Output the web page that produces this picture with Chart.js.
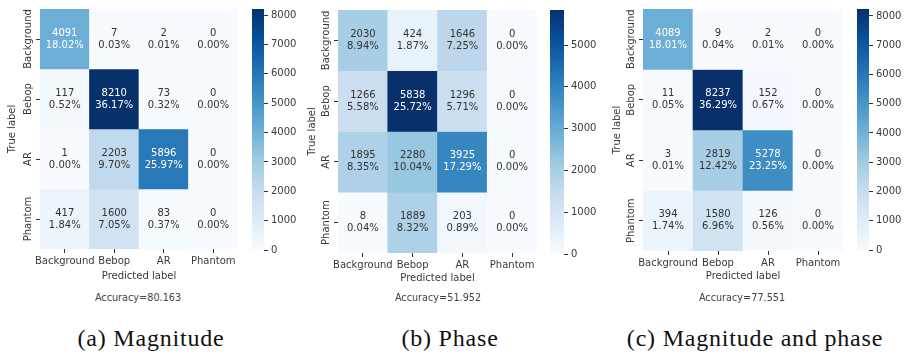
<!DOCTYPE html>
<html><head><meta charset="utf-8">
<script src="https://cdn.jsdelivr.net/npm/chart.js@4.4.1/dist/chart.umd.min.js"></script>
<style>
html,body{margin:0;padding:0;background:#fff}
body{width:907px;height:355px;position:relative;overflow:hidden}
canvas{position:absolute;top:0}
.acc{position:absolute;top:292px;line-height:12px;font:9.7px "DejaVu Sans";color:#444;transform:translateX(-50%);white-space:nowrap}
.cap{position:absolute;top:325px;line-height:26px;font:24px "Liberation Serif";letter-spacing:0.8px;color:#111;transform:translateX(-50%);white-space:nowrap}
</style></head><body>
<canvas id="ha" width="245" height="290" style="left:0px"></canvas>
<canvas id="ca" width="60" height="262" style="left:252px"></canvas>
<canvas id="hb" width="245" height="292" style="left:300px"></canvas>
<canvas id="cb" width="55" height="266" style="left:550px"></canvas>
<canvas id="hc" width="245" height="290" style="left:605px"></canvas>
<canvas id="cc" width="50" height="262" style="left:857px"></canvas>
<div class="acc" id="acca" style="left:138px"></div>
<div class="acc" id="accb" style="left:438px"></div>
<div class="acc" id="accc" style="left:742px"></div>
<div class="cap" id="capa" style="left:151px"></div>
<div class="cap" id="capb" style="left:450px"></div>
<div class="cap" id="capc" style="left:755px"></div>
<script>
// ---------- data ----------
const classes = ['Background', 'Bebop', 'AR', 'Phantom'];

const magnitudeCounts = [
  [4091, 7, 2, 0],
  [117, 8210, 73, 0],
  [1, 2203, 5896, 0],
  [417, 1600, 83, 0]
];
const magnitudePct = [
  ['18.02%', '0.03%', '0.01%', '0.00%'],
  ['0.52%', '36.17%', '0.32%', '0.00%'],
  ['0.00%', '9.70%', '25.97%', '0.00%'],
  ['1.84%', '7.05%', '0.37%', '0.00%']
];

const phaseCounts = [
  [2030, 424, 1646, 0],
  [1266, 5838, 1296, 0],
  [1895, 2280, 3925, 0],
  [8, 1889, 203, 0]
];
const phasePct = [
  ['8.94%', '1.87%', '7.25%', '0.00%'],
  ['5.58%', '25.72%', '5.71%', '0.00%'],
  ['8.35%', '10.04%', '17.29%', '0.00%'],
  ['0.04%', '8.32%', '0.89%', '0.00%']
];

const bothCounts = [
  [4089, 9, 2, 0],
  [11, 8237, 152, 0],
  [3, 2819, 5278, 0],
  [394, 1580, 126, 0]
];
const bothPct = [
  ['18.01%', '0.04%', '0.01%', '0.00%'],
  ['0.05%', '36.29%', '0.67%', '0.00%'],
  ['0.01%', '12.42%', '23.25%', '0.00%'],
  ['1.74%', '6.96%', '0.56%', '0.00%']
];

const colorbarTicksA = [0, 1000, 2000, 3000, 4000, 5000, 6000, 7000, 8000];
const colorbarTicksB = [0, 1000, 2000, 3000, 4000, 5000];
const colorbarTicksC = [0, 1000, 2000, 3000, 4000, 5000, 6000, 7000, 8000];

const accuracies = ['Accuracy=80.163', 'Accuracy=51.952', 'Accuracy=77.551'];
const captions = ['(a) Magnitude', '(b) Phase', '(c) Magnitude and phase'];

// ---------- colour map (matplotlib Blues) ----------
const BLUES = [[247,251,255],[222,235,247],[198,219,239],[158,202,225],[107,174,214],[66,146,198],[33,113,181],[8,81,156],[8,48,107]];
function bluesRGB(t) {
  t = Math.max(0, Math.min(1, t));
  const p = t * (BLUES.length - 1);
  const i = Math.min(BLUES.length - 2, Math.floor(p));
  const f = p - i;
  return BLUES[i].map((c, k) => Math.round(c + (BLUES[i + 1][k] - c) * f));
}
function rgbStr(c) { return 'rgb(' + c.join(',') + ')'; }
function luminance(c) {
  const l = c.map(v => { v /= 255; return v <= 0.03928 ? v / 12.92 : Math.pow((v + 0.055) / 1.055, 2.4); });
  return 0.2126 * l[0] + 0.7152 * l[1] + 0.0722 * l[2];
}

Chart.defaults.font.family = '"DejaVu Sans"';
Chart.defaults.font.size = 10;
const TXT = '#3a3a3a';
const TICK = '#333333';
const font10 = { family: '"DejaVu Sans"', size: 10 };

const annotPlugin = {
  id: 'annot',
  afterDatasetsDraw(chart) {
    const c = chart.ctx;
    c.save();
    c.font = '10px "DejaVu Sans"';
    c.textAlign = 'center';
    c.textBaseline = 'middle';
    chart.data.datasets.forEach((ds, r) => {
      const meta = chart.getDatasetMeta(r);
      meta.data.forEach((bar, k) => {
        const p = bar.getProps(['x', 'y', 'base'], true);
        const cy = (p.y + p.base) / 2;
        c.fillStyle = ds.textColors[k];
        c.fillText(String(ds.counts[k]), p.x, cy - 6);
        c.fillText(ds.pct[k], p.x, cy + 6);
      });
    });
    // rotated y tick labels
    const ys = chart.scales.y;
    c.fillStyle = TXT;
    ys.ticks.forEach((t, i) => {
      const py = ys.getPixelForValue(t.value);
      c.save();
      c.translate(chart.chartArea.left - 12, py);
      c.rotate(-Math.PI / 2);
      c.fillText(classes[i], 0, 0);
      c.restore();
    });
    c.restore();
  }
};

function heatmap(id, counts, pct, L) {
  const vmax = Math.max(...counts.flat());
  const datasets = counts.map((row, r) => {
    const cols = row.map(v => bluesRGB(v / vmax));
    return {
      data: row.map(() => [r, r + 1]),
      backgroundColor: cols.map(rgbStr),
      textColors: cols.map(col => luminance(col) > 0.408 ? '#333333' : '#ffffff'),
      counts: row,
      pct: pct[r],
      borderWidth: 0,
      barPercentage: 1,
      categoryPercentage: 1,
      grouped: false
    };
  });
  new Chart(document.getElementById(id), {
    type: 'bar',
    data: { labels: classes, datasets },
    options: {
      responsive: false, animation: false, events: [],
      layout: { padding: { top: L.top, right: L.right, left: 0, bottom: 0 } },
      plugins: { legend: { display: false }, tooltip: { enabled: false } },
      scales: {
        x: {
          ticks: { font: font10, color: TXT, padding: 2, maxRotation: 0, autoSkip: false },
          grid: { drawOnChartArea: false, offset: false, tickLength: 4, color: TICK, tickColor: TICK, tickWidth: 1 },
          border: { display: false },
          title: { display: true, text: 'Predicted label', font: font10, color: TXT, padding: { top: 0, bottom: 8 } },
          afterFit: s => { s.height = L.xh; }
        },
        y: {
          type: 'linear', min: 0, max: 4, reverse: true,
          afterBuildTicks: s => { s.ticks = [0.5, 1.5, 2.5, 3.5].map(v => ({ value: v })); },
          ticks: { callback: () => ' ', font: font10 },
          grid: { drawOnChartArea: false, tickLength: 4, color: TICK, tickColor: TICK, tickWidth: 1 },
          border: { display: false },
          title: { display: true, text: 'True label', font: font10, color: TXT, padding: { top: 6, bottom: 0 } },
          afterFit: s => { s.width = L.yw; }
        }
      }
    },
    plugins: [annotPlugin]
  });
  return vmax;
}

function colorbar(id, vmax, ticks, L) {
  function grad(ctx) {
    const ch = ctx.chart;
    if (!ch.chartArea) return rgbStr(BLUES[4]);
    const y0 = ch.scales.y.getPixelForValue(0);
    const y1 = ch.scales.y.getPixelForValue(vmax);
    const g = ch.ctx.createLinearGradient(0, y0, 0, y1);
    BLUES.forEach((c, i) => g.addColorStop(i / (BLUES.length - 1), rgbStr(c)));
    return g;
  }
  new Chart(document.getElementById(id), {
    type: 'bar',
    data: { labels: [''], datasets: [{ data: [[0, vmax]], backgroundColor: grad, borderWidth: 0, barPercentage: 1, categoryPercentage: 1 }] },
    options: {
      responsive: false, animation: false, events: [],
      layout: { padding: { top: L.top, bottom: L.bottom, left: 0, right: 0 } },
      plugins: { legend: { display: false }, tooltip: { enabled: false } },
      scales: {
        x: { display: false },
        y: {
          position: 'right', min: 0, max: vmax,
          afterBuildTicks: s => { s.ticks = ticks.map(v => ({ value: v })); },
          ticks: { font: font10, color: TXT, padding: 3, callback: v => String(v) },
          grid: { drawOnChartArea: false, tickLength: 4, color: TICK, tickColor: TICK, tickWidth: 1 },
          border: { display: false },
          afterFit: s => { s.width = L.w; }
        }
      }
    }
  });
}

const vA = heatmap('ha', magnitudeCounts, magnitudePct, { top: 7, right: 7, xh: 41, yw: 40 });
const vB = heatmap('hb', phaseCounts, phasePct, { top: 10, right: 8, xh: 39, yw: 38 });
const vC = heatmap('hc', bothCounts, bothPct, { top: 7, right: 7, xh: 39, yw: 38 });
colorbar('ca', vA, colorbarTicksA, { top: 7, bottom: 12, w: 48 });
colorbar('cb', vB, colorbarTicksB, { top: 10, bottom: 12, w: 41 });
colorbar('cc', vC, colorbarTicksC, { top: 7, bottom: 12, w: 38 });

['acca', 'accb', 'accc'].forEach((id, i) => { document.getElementById(id).textContent = accuracies[i]; });
['capa', 'capb', 'capc'].forEach((id, i) => { document.getElementById(id).textContent = captions[i]; });
</script>
</body></html>
